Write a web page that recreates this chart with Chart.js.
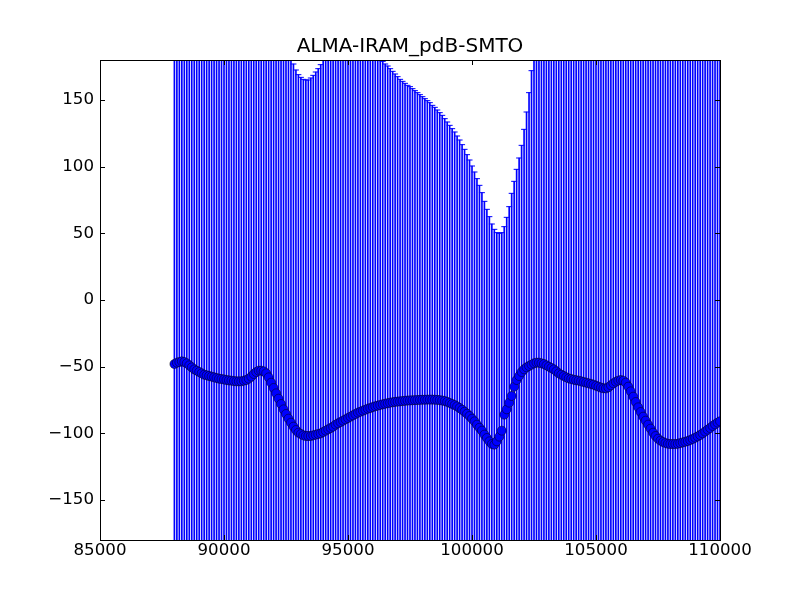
<!DOCTYPE html>
<html><head><meta charset="utf-8">
<script src="https://cdn.jsdelivr.net/npm/chart.js@4"></script>
<style>html,body{margin:0;padding:0;background:#fff}</style>
</head><body>
<canvas id="c" width="800" height="600"></canvas>
<script>
const chartTitle = 'ALMA-IRAM_pdB-SMTO';

const freqs = [
 88000,88100,88200,88300,88400,88500,88600,88700,88800,88900,
 89000,89100,89200,89300,89400,89500,89600,89700,89800,89900,
 90000,90100,90200,90300,90400,90500,90600,90700,90800,90900,
 91000,91100,91200,91300,91400,91500,91600,91700,91800,91900,
 92000,92100,92200,92300,92400,92500,92600,92700,92800,92900,
 93000,93100,93200,93300,93400,93500,93600,93700,93800,93900,
 94000,94100,94200,94300,94400,94500,94600,94700,94800,94900,
 95000,95100,95200,95300,95400,95500,95600,95700,95800,95900,
 96000,96100,96200,96300,96400,96500,96600,96700,96800,96900,
 97000,97100,97200,97300,97400,97500,97600,97700,97800,97900,
 98000,98100,98200,98300,98400,98500,98600,98700,98800,98900,
 99000,99100,99200,99300,99400,99500,99600,99700,99800,99900,
 100000,100100,100200,100300,100400,100500,100600,100700,100800,100900,
 101000,101100,101200,101300,101400,101500,101600,101700,101800,101900,
 102000,102100,102200,102300,102400,102500,102600,102700,102800,102900,
 103000,103100,103200,103300,103400,103500,103600,103700,103800,103900,
 104000,104100,104200,104300,104400,104500,104600,104700,104800,104900,
 105000,105100,105200,105300,105400,105500,105600,105700,105800,105900,
 106000,106100,106200,106300,106400,106500,106600,106700,106800,106900,
 107000,107100,107200,107300,107400,107500,107600,107700,107800,107900,
 108000,108100,108200,108300,108400,108500,108600,108700,108800,108900,
 109000,109100,109200,109300,109400,109500,109600,109700,109800,109900,
 110000
];

const phase = [
 -48,-47,-46.5,-46,-46.5,-47.5,-49,-50.5,-52,-53,
 -54,-55,-56,-56.5,-57,-57.5,-58,-58.5,-59,-59.3,
 -59.6,-60,-60.3,-60.5,-60.8,-61,-61,-61,-60.5,-60,
 -59,-57.5,-55.5,-54,-53,-53,-53.5,-55,-58,-62,
 -66,-70,-74,-78,-82,-85.5,-89,-92,-95,-97.5,
 -99.5,-100.5,-101.5,-102,-102,-102,-101.5,-101,-100.5,-100,
 -99,-98,-97,-96,-95,-93.5,-92.5,-91.5,-90.5,-89.5,
 -88.5,-87.5,-86.5,-85.5,-84.5,-83.8,-83,-82.3,-81.5,-81,
 -80.3,-79.7,-79.2,-78.7,-78.2,-77.8,-77.4,-77,-76.7,-76.4,
 -76.2,-76,-75.8,-75.6,-75.4,-75.3,-75.2,-75.1,-75,-74.9,
 -74.8,-74.8,-74.7,-74.7,-74.7,-74.8,-74.9,-75.1,-75.4,-75.8,
 -76.4,-77.2,-78,-78.8,-79.8,-81,-82.3,-83.8,-85.3,-87,
 -89,-91,-93.5,-95.8,-98,-101,-103.5,-106,-108,-108.5,
 -106,-102.5,-98,-86,-82,-77,-72,-65,-60,-57,
 -54,-52,-50.5,-49.5,-48.5,-47.5,-47,-47,-47.5,-48,
 -49,-50,-51,-52,-53.5,-55,-56,-57,-58,-58.8,
 -59.3,-59.8,-60.2,-60.5,-61,-61.5,-62,-62.5,-63,-63.5,
 -64.3,-65,-65.7,-66.2,-66.3,-65.5,-64,-62.5,-61.3,-60.5,
 -60,-60.5,-62,-65,-68.5,-72.5,-76.5,-80.5,-84,-87.5,
 -90.5,-93.5,-96.5,-99.5,-102,-104,-105.5,-106.5,-107.3,-107.8,
 -108,-108,-108,-107.8,-107.3,-106.8,-106.3,-105.8,-105,-104.2,
 -103.3,-102.3,-101.3,-100,-98.7,-97.3,-96,-94.5,-93.3,-92,
 -91
];

const phaseErr = [
 290,290,290,290,290,290,290,290,290,290,
 290,290,290,290,290,290,290,290,290,290,
 290,290,290,290,290,290,290,290,290,290,
 290,290,290,290,290,290,290,290,290,290,
 290,290,290,290,290,290,280,274,272,270,
 268.5,267.5,267,267,267,268.5,270,272,274,276.5,
 282,290,290,290,290,290,290,290,290,290,
 290,290,290,290,290,290,290,290,290,290,
 290,290,290,262,257.2,254.8,252.9,250.5,248.2,245.9,
 243.7,241.5,239.8,238.1,236.4,235.3,233.7,232.1,230.5,228.9,
 227.3,225.8,224.2,222.7,220.7,219.3,217.4,215.6,213.9,211.8,
 209.9,208.2,206.5,204.8,202.8,201,198.8,196.8,194.3,192,
 189.5,187,184.5,181.8,178.5,175,171.5,168.5,165,161.5,
 156.5,152.5,148.5,141,144,147,152,154,158,163.5,
 170,180,191.5,205,220.5,232,290,290,290,290,
 290,290,290,290,290,290,290,290,290,290,
 290,290,290,290,290,290,290,290,290,290,
 290,290,290,290,290,290,290,290,290,290,
 290,290,290,290,290,290,290,290,290,290,
 290,290,290,290,290,290,290,290,290,290,
 290,290,290,290,290,290,290,290,290,290,
 290,290,290,290,290,290,290,290,290,290,
 290
];

const xTicks = [85000, 90000, 95000, 100000, 105000, 110000];
const yTicks = [-150, -100, -50, 0, 50, 100, 150];

const barData = freqs.map((f, i) => ({x: f, y: [phase[i] - phaseErr[i], phase[i] + phaseErr[i]]}));
const capData = [];
freqs.forEach((f, i) => {
  capData.push({x: f, y: phase[i] + phaseErr[i]});
  capData.push({x: f, y: phase[i] - phaseErr[i]});
});
const pointData = freqs.map((f, i) => ({x: f, y: phase[i]}));

const tickFont = {family: 'DejaVu Sans', size: 16.67};

const framePlugin = {
  id: 'frame',
  afterDraw(chart) {
    const {ctx, chartArea: a, scales: {x, y}} = chart;
    ctx.save();
    ctx.strokeStyle = '#000';
    ctx.lineWidth = 1;
    ctx.beginPath();
    const L = 5;
    xTicks.forEach(v => {
      const px = Math.round(x.getPixelForValue(v)) + 0.5;
      ctx.moveTo(px, a.bottom); ctx.lineTo(px, a.bottom - L);
      ctx.moveTo(px, a.top); ctx.lineTo(px, a.top + L);
    });
    yTicks.forEach(v => {
      const py = Math.round(y.getPixelForValue(v)) + 0.5;
      ctx.moveTo(a.left, py); ctx.lineTo(a.left + L, py);
      ctx.moveTo(a.right, py); ctx.lineTo(a.right - L, py);
    });
    ctx.stroke();
    ctx.strokeRect(a.left + 0.5, a.top + 0.5, a.right - a.left, a.bottom - a.top);
    ctx.restore();
  }
};

new Chart(document.getElementById('c'), {
  type: 'bar',
  data: {
    datasets: [
      {
        type: 'bar', data: barData, backgroundColor: '#0000ff', borderWidth: 0,
        barThickness: 1, order: 3, clip: 0
      },
      {
        type: 'scatter', data: capData, showLine: false, pointStyle: 'line',
        pointRadius: 3, borderColor: '#0000ff', borderWidth: 1, order: 2, clip: 0
      },
      {
        type: 'scatter', data: pointData, showLine: false, pointStyle: 'circle',
        pointRadius: 4.5, backgroundColor: '#0000ff', borderColor: '#000000',
        borderWidth: 0.5, order: 1, clip: 0
      }
    ]
  },
  options: {
    responsive: false,
    animation: false,
    devicePixelRatio: 1,
    layout: {padding: {left: 20, right: 0, top: 0, bottom: 0}},
    plugins: {
      legend: {display: false},
      tooltip: {enabled: false},
      title: {
        display: true, text: chartTitle, color: '#000',
        font: {family: 'DejaVu Sans', size: 20, weight: 'normal'},
        padding: {top: 35, bottom: 1}
      }
    },
    scales: {
      x: {
        type: 'linear', min: 85000, max: 110000, offset: false,
        afterBuildTicks: s => { s.ticks = xTicks.map(v => ({value: v})); },
        afterFit: s => { s.height = 60; },
        grid: {display: false, drawTicks: false},
        border: {display: false},
        ticks: {color: '#000', font: tickFont, padding: 1, maxRotation: 0, autoSkip: false,
                callback: v => String(v)}
      },
      y: {
        type: 'linear', position: 'left', min: -180, max: 180,
        afterBuildTicks: s => { s.ticks = yTicks.map(v => ({value: v})); },
        afterFit: s => { s.width = 80; },
        grid: {display: false, drawTicks: false},
        border: {display: false},
        ticks: {color: '#000', font: tickFont, padding: 6,
                callback: v => (v < 0 ? '\u2212' + Math.abs(v) : String(v))}
      },
      yRight: {
        type: 'linear', position: 'right', min: -180, max: 180,
        afterFit: s => { s.width = 80; },
        grid: {display: false, drawTicks: false},
        border: {display: false},
        ticks: {display: false}
      }
    }
  },
  plugins: [framePlugin]
});
</script>
</body></html>
